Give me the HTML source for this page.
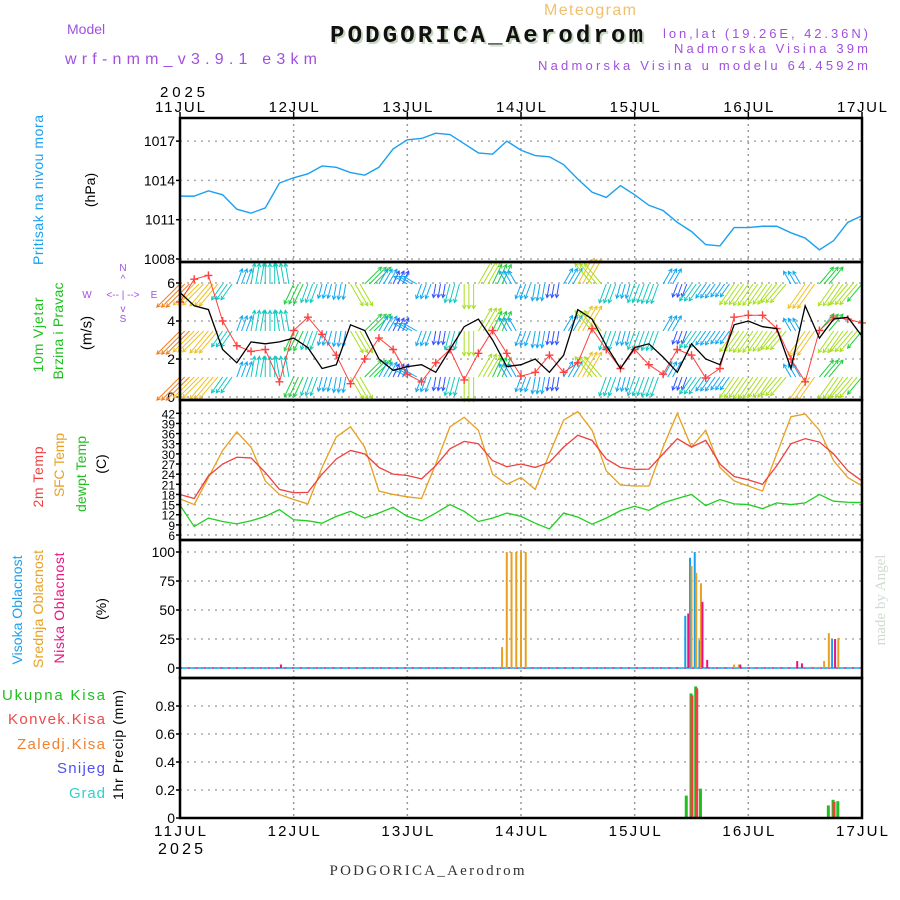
<!DOCTYPE html>
<html><head><meta charset="utf-8"><style>
html,body{margin:0;padding:0;background:#fff;}
svg{display:block;font-family:"Liberation Sans",sans-serif;}
</style></head><body>
<svg id="chart" width="900" height="900" viewBox="0 0 900 900" xmlns="http://www.w3.org/2000/svg">
<rect width="900" height="900" fill="#fff"/>
<text x="590" y="15" font-size="16" fill="#f0c070" text-anchor="middle" textLength="92">Meteogram</text>
<text x="67" y="34" font-size="14" fill="#a050e0">Model</text>
<text x="65" y="64" font-size="16" fill="#a050e0" textLength="252">wrf-nmm_v3.9.1 e3km</text>
<text x="332" y="44" font-family="Liberation Mono,monospace" font-weight="bold" font-size="24" fill="#c8d8c0" textLength="313">PODGORICA_Aerodrom</text>
<text x="330" y="42" font-family="Liberation Mono,monospace" font-weight="bold" font-size="24" fill="#111" textLength="313">PODGORICA_Aerodrom</text>
<text x="868" y="38" font-size="13" fill="#a050e0" text-anchor="end" textLength="205">lon,lat (19.26E, 42.36N)</text>
<text x="868" y="53" font-size="13" fill="#a050e0" text-anchor="end" textLength="194">Nadmorska Visina 39m</text>
<text x="868" y="70" font-size="13" fill="#a050e0" text-anchor="end" textLength="330">Nadmorska Visina u modelu 64.4592m</text>
<text transform="translate(885,600) rotate(-90)" font-family="Liberation Serif,serif" font-size="15" fill="#d0dcd0" text-anchor="middle">made by Angel</text>
<text x="427" y="875" font-family="Liberation Serif,serif" font-size="15" fill="#333" text-anchor="middle" textLength="195">PODGORICA_Aerodrom</text>
<g id="g"></g>
</svg>
<script>
// ---- data (3-hourly, hours 0..144 from 11 JUL 00Z) ----
const days = ["11JUL","12JUL","13JUL","14JUL","15JUL","16JUL","17JUL"];
const pressure = [1012.8,1012.8,1013.2,1012.9,1011.8,1011.5,1011.9,1013.8,1014.2,1014.5,1015.1,1015.0,1014.6,1014.4,1015.0,1016.4,1017.1,1017.2,1017.6,1017.5,1016.8,1016.1,1016.0,1017.0,1016.3,1015.9,1015.8,1015.2,1014.1,1013.1,1012.7,1013.6,1012.9,1012.1,1011.7,1010.8,1010.1,1009.1,1009.0,1010.4,1010.4,1010.5,1010.5,1010.0,1009.6,1008.7,1009.4,1010.8,1011.3];
const windSpeed = [5.5,4.8,4.6,2.5,1.8,2.9,2.8,2.9,3.1,2.6,1.5,1.7,3.8,3.5,2.0,1.4,1.6,1.7,1.3,2.5,3.7,4.1,3.0,1.6,1.7,2.0,1.3,2.2,4.6,4.1,2.7,1.5,2.6,2.8,2.1,1.3,2.8,2.0,1.7,3.8,4.0,3.7,3.6,1.5,4.8,3.1,4.1,4.2,3.2];
const windGust = [5.0,6.2,6.4,4.0,2.7,2.4,2.5,0.8,3.5,4.2,3.3,2.2,0.7,2.0,3.1,2.5,1.2,0.8,1.8,2.5,0.9,2.3,3.5,2.3,1.1,1.3,2.2,1.3,1.8,3.6,2.5,1.5,2.5,1.7,1.2,2.5,2.2,1.0,1.5,4.2,4.3,4.3,3.6,2.0,0.8,3.5,4.2,4.1,3.9];
const windDir = [225,225,220,215,20,10,0,350,205,200,195,190,150,45,30,25,300,200,190,195,180,30,25,330,200,190,190,30,30,320,200,195,200,200,30,200,215,215,215,215,215,215,220,330,215,40,215,220,220];
const temp2m = [18,16.8,23.5,27,29,28.8,24.5,19.5,18.5,18.6,24,28.5,31,30,26,24,23.6,22.6,26.5,31.5,33.7,33,28,26.2,27,26,27.5,32,35.5,34,28.5,26,25.4,25.5,30,34.5,32,34,27,23.3,22.3,21,26.5,33,34.5,33.5,30,25,22];
const tempSfc = [16.7,15,23,31,36.5,32,22,18,16.5,15.2,26,35,38,32,19,18,17.3,16.8,27,38,40.8,37,24,21,23,19.5,30,40,42.5,37,25,20.8,20.5,20.5,32,42,32,37,26,22,20.5,19,30,41,41.8,37,28,23,20.5];
const dewpt = [14.8,8.5,11,10,9.3,10.2,11.5,13.5,10.5,10.2,9.5,11.5,13,11,12.5,14.2,11.5,10.2,12.5,15,13,10,11,12.5,11.5,9.5,7.8,12.5,11.3,9.2,11,13.2,14.5,13.3,15.5,16.8,18,14.7,16.5,15.2,15,13.8,15.5,15,15.5,18,16,15.7,15.6];
const cloudHours = [21,68,69,70,71,72,73,107,108,109,110,111,117,118,130,131,132,133,134,135,136,137,138,139];
const cloudHigh =  [0,0,0,0,0,0,0,45,95,100,24,0,0,0,0,0,0,0,0,0,0,0,25,0];
const cloudMid =   [0,18,100,100,100,100,100,0,88,82,73,0,3,3,0,0,1,1,1,1,6,30,0,26];
const cloudLow =   [3,0,0,0,0,0,0,47,0,0,57,7,0,3,6,4,0,0,0,0,0,0,25,0];
const precipHours = [107,108,109,110,137,138,139];
const precipTotal = [0.16,0.89,0.94,0.21,0.09,0.13,0.12];
const precipConv =  [0,0.89,0.94,0,0,0.13,0];
const pTicks = [1008,1011,1014,1017];
const wTicks = [0,2,4,6];
const tTicks = [6,9,12,15,18,21,24,27,30,33,36,39,42];
const cTicks = [0,25,50,75,100];
const rTicks = [0,0.2,0.4,0.6,0.8];

// ---- scales ----
const X0=180,X1=862;
const xh = h => X0 + h*(X1-X0)/144;
const yP = p => 259 - (p-1008)*13.1;
const yW = s => 397 - s*19;
const yT = t => 535 - (t-6)*3.38;
const yC = c => 668 - c*1.16;
const yR = r => 818 - r*140;
const NS="http://www.w3.org/2000/svg";
const g=document.getElementById('g');
function mk(tag,attrs,parent){const e=document.createElementNS(NS,tag);for(const k in attrs)e.setAttribute(k,attrs[k]);(parent||g).appendChild(e);return e;}
function txt(s,x,y,attrs){const e=mk('text',Object.assign({x:x,y:y},attrs||{}));e.textContent=s;return e;}
function rot(s,x,y,size,color,len){const a={transform:`translate(${x},${y}) rotate(-90)`,'font-size':size,fill:color,'text-anchor':'middle','dominant-baseline':'central'};if(len)a.textLength=len;const e=mk('text',a);e.textContent=s;return e;}

const panels=[[118,262],[262,400],[400,540],[540,678],[678,818]];
for(let i=1;i<6;i++){
  const l=mk('line',{x1:xh(i*24),x2:xh(i*24),y1:118,y2:818,stroke:'#999','stroke-dasharray':'2,4','stroke-width':1.5});
  
  
}
function hgrid(vals,fy,name){vals.forEach(v=>{const l=mk('line',{x1:X0,x2:X1,y1:fy(v),y2:fy(v),stroke:'#aaa','stroke-dasharray':'2,5','stroke-width':1.5});
  
  });}
hgrid(pTicks,yP,'pressure-gridline');hgrid(wTicks,yW,'wind-gridline');hgrid(tTicks,yT,'temp-gridline');hgrid(cTicks,yC,'cloud-gridline');hgrid(rTicks.slice(1),yR,'precip-gridline');
function yticks(vals,fy,fmt,size,name){vals.forEach(v=>{const t=txt(fmt(v),175,fy(v)+5,{'font-size':size,'text-anchor':'end',fill:'#000'});
  
  
  mk('line',{x1:176,x2:180,y1:fy(v),y2:fy(v),stroke:'#000','stroke-width':1.5});});}
yticks(pTicks,yP,v=>v,14,'pressure-tick');
yticks(wTicks,yW,v=>v,14,'wind-tick');
yticks(tTicks,yT,v=>v,12,'temp-tick');
yticks(cTicks,yC,v=>v,14,'cloud-tick');
yticks(rTicks,yR,v=>v===0?'0':v.toFixed(1),14,'precip-tick');

const pl=mk('polyline',{points:pressure.map((p,i)=>xh(i*3)+','+yP(p)).join(' '),fill:'none',stroke:'#1aa0f0','stroke-width':1.4});



function wcol(s){return s<1.5?'#3050ff':s<2.3?'#10a8f0':s<3?'#10c8c0':s<3.6?'#20d040':s<4.3?'#a8e020':s<5?'#f0c020':'#f08020';}
const rows=[284,331,377];
windDir.forEach((d,i)=>{
  const s=windSpeed[i];
  for(let k=0;k<3;k++){
    const h=i*3+k; if(h>144)break;
    rows.forEach(by=>{
      const L=8+4.5*s, a=d*Math.PI/180, x=xh(h), x2=x+L*Math.sin(a), y2=by-L*Math.cos(a);
      const ar=mk('path',{d:`M${x},${by}L${x2},${y2}M${x2-4*Math.sin(a-0.5)},${y2+4*Math.cos(a-0.5)}L${x2},${y2}L${x2-4*Math.sin(a+0.5)},${y2+4*Math.cos(a+0.5)}`,stroke:wcol(s),'stroke-width':1,fill:'none'});
      
      
    });
  }
});
const gl=mk('polyline',{points:windGust.map((v,i)=>xh(i*3)+','+yW(v)).join(' '),fill:'none',stroke:'#ff4040','stroke-width':1});


windGust.forEach((v,i)=>{const x=xh(i*3),y=yW(v);
  const m=mk('path',{d:`M${x-4},${y}H${x+4}M${x},${y-4}V${y+4}`,stroke:'#ff4040','stroke-width':1.4});
  
  });
const sl=mk('polyline',{points:windSpeed.map((v,i)=>xh(i*3)+','+yW(v)).join(' '),fill:'none',stroke:'#000','stroke-width':1.3});



[[tempSfc,'#e8a020','sfc-temp-line'],[temp2m,'#f04040','temp-2m-line'],[dewpt,'#20d020','dewpoint-line']].forEach(([arr,c,n])=>{
  const l=mk('polyline',{points:arr.map((v,i)=>xh(i*3)+','+yT(v)).join(' '),fill:'none',stroke:c,'stroke-width':1.3});
  
  
});

const zl=mk('line',{x1:X0,x2:X1,y1:668,y2:668,stroke:'#1aa0f0','stroke-width':1.5});


mk('line',{x1:X0,x2:X1,y1:668,y2:668,stroke:'#f03080','stroke-width':1.5,'stroke-dasharray':'2,6'});
cloudHours.forEach((h,i)=>{
  [[cloudHigh[i],'#1aa0f0',-1.5,'cloud-high-bar'],[cloudMid[i],'#e8a020',0,'cloud-mid-bar'],[cloudLow[i],'#f01080',1.5,'cloud-low-bar']].forEach(([v,c,o,n])=>{
    if(v<=0)return;
    const b=mk('rect',{x:xh(h)+o-1,y:yC(v),width:2,height:668-yC(v),fill:c});
    
    
  });
});
precipHours.forEach((h,i)=>{
  const b=mk('rect',{x:xh(h)-2,y:yR(precipTotal[i]),width:3,height:818-yR(precipTotal[i]),fill:'#20c020'});
  
  
  if(precipConv[i]>0){const r=mk('rect',{x:xh(h)-1,y:yR(precipConv[i])+2,width:3,height:818-yR(precipConv[i])-2,fill:'#f04040'});
  
  }
});

panels.forEach(([a,b])=>{const f=mk('rect',{x:X0,y:a,width:X1-X0,height:b-a,fill:'none',stroke:'#000','stroke-width':2.5});
  
  });
days.forEach((d,i)=>{
  const x=xh(i*24);
  mk('line',{x1:x,x2:x,y1:112,y2:118,stroke:'#000','stroke-width':1.5});
  const t=txt(d,x,112,{'font-size':15,'text-anchor':'middle',fill:'#000',textLength:50});
  
  
  const b=txt(d,x,836,{'font-size':15,'text-anchor':'middle',fill:'#000',textLength:52});
  
  
});
txt('2025',160,97,{'font-size':15,fill:'#000',textLength:45});
txt('2025',158,854,{'font-size':16,fill:'#000',textLength:45});

rot('Pritisak na nivou mora',38,190,14,'#1aa0f0',150);
rot('(hPa)',90,190,14,'#000');
rot('10m Vjetar',38,335,14,'#20c020',75);
rot('Brzina i Pravac',58,331,14,'#20c020',97);
rot('(m/s)',87,333,15,'#000');
rot('2m Temp',38,477,14,'#f04040',61);
rot('SFC Temp',59,465,14,'#e8a020',64);
rot('dewpt Temp',81,474,14,'#20c020',76);
rot('(C)',101,464,14,'#000');
rot('Visoka Oblacnost',17,610,14,'#1aa0f0',109);
rot('Srednja Oblacnost',38,609,14,'#e8a020',118);
rot('Niska Oblacnost',59,608,14,'#f01080',111);
rot('(%)',101,609,14,'#000');
rot('1hr Precip (mm)',118,745,14,'#000',110);
[['Ukupna Kisa','#20c020',700,103],['Konvek.Kisa','#f04848',724,97],['Zaledj.Kisa','#f08030',749,88],['Snijeg','#5050f0',773,48],['Grad','#30d0d0',798,36]].forEach(([s,c,y,l])=>{
  const t=txt(s,105,y,{'font-size':15,fill:c,'text-anchor':'end',textLength:l});
  
  
});
const cp='#a050e0';
txt('N',123,271,{'font-size':10,fill:cp,'text-anchor':'middle'});
txt('^',123,282,{'font-size':10,fill:cp,'text-anchor':'middle'});
txt('W',87,298,{'font-size':10,fill:cp,'text-anchor':'middle'});
txt('E',154,298,{'font-size':10,fill:cp,'text-anchor':'middle'});
txt('<-- | -->',123,298,{'font-size':10,fill:cp,'text-anchor':'middle'});
txt('v',123,312,{'font-size':10,fill:cp,'text-anchor':'middle'});
txt('S',123,322,{'font-size':10,fill:cp,'text-anchor':'middle'});
</script>
</body></html>
